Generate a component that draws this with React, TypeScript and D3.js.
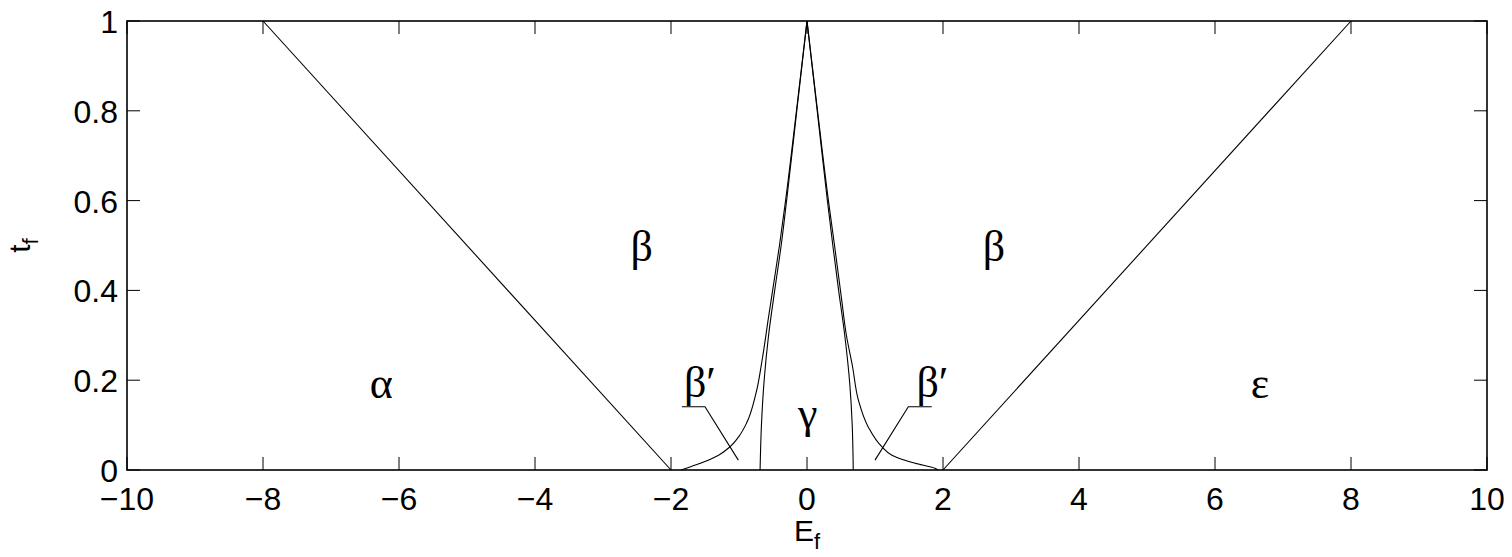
import React from "react";
import * as d3 from "d3";

// ---- data ----
const xTicks = [-10, -8, -6, -4, -2, 0, 2, 4, 6, 8, 10];
const yTicks = [0, 0.2, 0.4, 0.6, 0.8, 1];
const xTickLabels = ["\u221210", "\u22128", "\u22126", "\u22124", "\u22122", "0", "2", "4", "6", "8", "10"];
const yTickLabels = ["0", "0.2", "0.4", "0.6", "0.8", "1"];

// straight boundaries
const leftLineE = [-8, -2];
const leftLineT = [1, 0];
const rightLineE = [2, 8];
const rightLineT = [0, 1];

// outer curved boundary (beta / beta')
const outerLeftE = [-1.85, -1.7, -1.52, -1.3, -1.13, -1.0, -0.89, -0.75, -0.66, -0.565, -0.485, -0.405, -0.315, -0.155, 0];
const outerLeftT = [0, 0.008, 0.018, 0.033, 0.052, 0.075, 0.104, 0.171, 0.245, 0.341, 0.42, 0.5, 0.6, 0.8, 1];
const outerRightE = [0, 0.155, 0.315, 0.405, 0.51, 0.575, 0.67, 0.755, 0.9, 1.1, 1.25, 1.59, 1.88, 1.93];
const outerRightT = [1, 0.8, 0.6, 0.5, 0.379, 0.304, 0.23, 0.156, 0.096, 0.052, 0.033, 0.015, 0.004, 0];

// inner boundary (gamma)
const innerLeftE = [-0.69, -0.67, -0.63, -0.565, -0.475, -0.38, -0.3, -0.15, 0];
const innerLeftT = [0, 0.1, 0.2, 0.3, 0.4, 0.5, 0.6, 0.8, 1];
const innerRightE = [0, 0.15, 0.3, 0.38, 0.465, 0.555, 0.63, 0.665, 0.68];
const innerRightT = [1, 0.8, 0.6, 0.5, 0.4, 0.3, 0.19, 0.1, 0];

// region labels
const regionLabels = ["\u03b1", "\u03b2", "\u03b2", "\u03b3", "\u03b5"];
const regionLabelE = [-6.26, -2.43, 2.75, 0.01, 6.66];
const regionLabelT = [0.16, 0.465, 0.465, 0.094, 0.16];

const primeLabels = ["\u03b2\u2032", "\u03b2\u2032"];
const primeLabelE = [-1.81, 1.61];
const primeLabelT = [0.163, 0.163];

// leader lines for beta' labels: [underline start, corner, pointer end]
const leaderLeftE = [-1.84, -1.5, -1.01];
const leaderLeftT = [0.141, 0.141, 0.022];
const leaderRightE = [1.835, 1.49, 1.0];
const leaderRightT = [0.141, 0.141, 0.022];

const W = 1512;
const H = 557;
const margin = { left: 127, right: 25, top: 21, bottom: 87 };

export default function App() {
  const x = d3.scaleLinear().domain([-10, 10]).range([margin.left, W - margin.right]);
  const y = d3.scaleLinear().domain([0, 1]).range([H - margin.bottom, margin.top]);

  const line = d3
    .line<[number, number]>()
    .x((d) => x(d[0]))
    .y((d) => y(d[1]));
  const smooth = d3
    .line<[number, number]>()
    .x((d) => x(d[0]))
    .y((d) => y(d[1]))
    .curve(d3.curveMonotoneY);

  const zip = (a: number[], b: number[]) => a.map((v, i) => [v, b[i]] as [number, number]);

  const x0 = x(-10), x1 = x(10), y0 = y(0), y1 = y(1);
  const tickLen = 13;
  const tickFont = "Liberation Sans, Arial, Helvetica, sans-serif";
  const greekFont = "Liberation Serif, Times New Roman, serif";

  return (
    <svg width={W} height={H} style={{ position: "absolute", left: 0, top: 0, background: "#fff" }}>
      <rect x={0} y={0} width={W} height={H} fill="#fff" />
      {/* ticks */}
      {xTicks.map((t) => (
        <g key={"xt" + t}>
          <line x1={x(t)} x2={x(t)} y1={y0} y2={y0 - tickLen} stroke="#000" strokeWidth={1} />
          <line x1={x(t)} x2={x(t)} y1={y1} y2={y1 + tickLen} stroke="#000" strokeWidth={1} />
        </g>
      ))}
      {yTicks.map((t) => (
        <g key={"yt" + t}>
          <line x1={x0} x2={x0 + tickLen} y1={y(t)} y2={y(t)} stroke="#000" strokeWidth={1} />
          <line x1={x1} x2={x1 - tickLen} y1={y(t)} y2={y(t)} stroke="#000" strokeWidth={1} />
        </g>
      ))}
      {/* data lines */}
      <g fill="none" stroke="#000" strokeWidth={1.1}>
        <path d={line(zip(leftLineE, leftLineT)) || ""} />
        <path d={line(zip(rightLineE, rightLineT)) || ""} />
        <path d={smooth(zip(outerLeftE, outerLeftT)) || ""} />
        <path d={smooth(zip(outerRightE, outerRightT)) || ""} />
        <path d={smooth(zip(innerLeftE, innerLeftT)) || ""} />
        <path d={smooth(zip(innerRightE, innerRightT)) || ""} />
        <path d={line(zip(leaderLeftE, leaderLeftT)) || ""} />
        <path d={line(zip(leaderRightE, leaderRightT)) || ""} />
      </g>
      {/* box */}
      <rect x={x0} y={y1} width={x1 - x0} height={y0 - y1} fill="none" stroke="#000" strokeWidth={1.6} />
      {/* tick labels */}
      {xTicks.map((t, i) => (
        <text key={"xl" + t} x={x(t)} y={y0 + 40} textAnchor="middle" fontFamily={tickFont} fontSize={32}>
          {xTickLabels[i]}
        </text>
      ))}
      {yTicks.map((t, i) => (
        <text key={"yl" + t} x={x0 - 9} y={y(t) + 12} textAnchor="end" fontFamily={tickFont} fontSize={32}>
          {yTickLabels[i]}
        </text>
      ))}
      {/* region labels */}
      {regionLabels.map((s, i) => (
        <text key={"rl" + i} x={x(regionLabelE[i])} y={y(regionLabelT[i])} textAnchor="middle" fontFamily={greekFont} fontSize={44}>
          {s}
        </text>
      ))}
      {primeLabels.map((s, i) => (
        <text key={"pl" + i} x={x(primeLabelE[i])} y={y(primeLabelT[i])} textAnchor="start" fontFamily={greekFont} fontSize={44}>
          {s}
        </text>
      ))}
      {/* axis labels */}
      <text x={(x0 + x1) / 2} y={541} textAnchor="middle" fontFamily={tickFont} fontSize={30}>
        E<tspan dy={8} fontSize={22}>f</tspan>
      </text>
      <text transform={`translate(30, ${(y0 + y1) / 2}) rotate(-90)`} textAnchor="middle" fontFamily={tickFont} fontSize={30}>
        t<tspan dy={8} fontSize={22}>f</tspan>
      </text>
    </svg>
  );
}
